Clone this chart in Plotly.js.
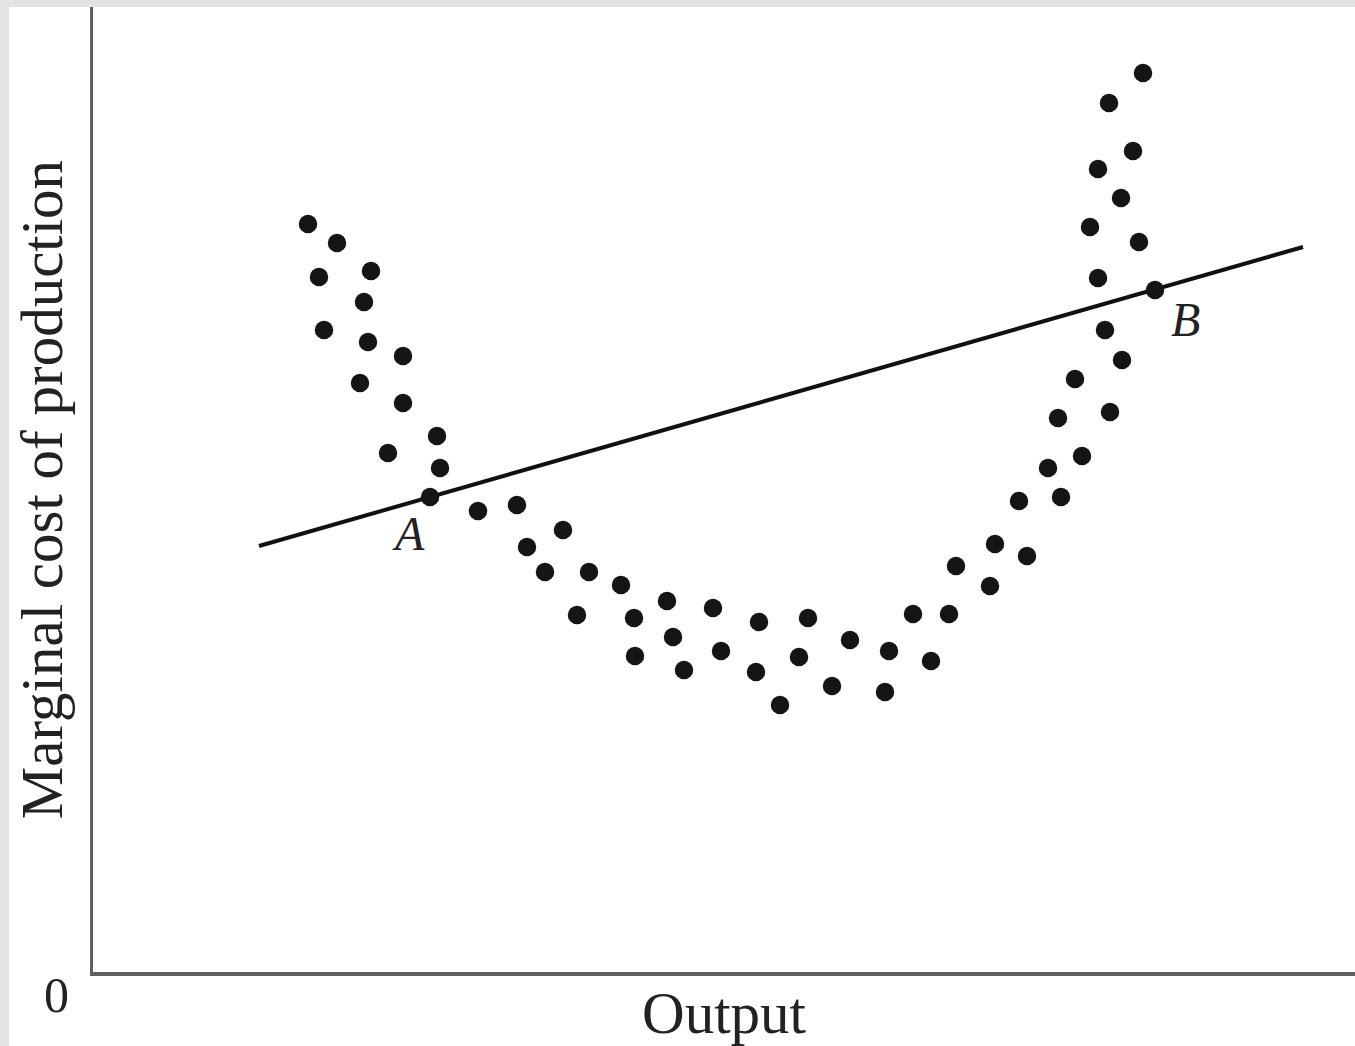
<!DOCTYPE html>
<html>
<head>
<meta charset="utf-8">
<script src="https://cdn.plot.ly/plotly-3.0.1.min.js"></script>
<style>
  html, body { margin: 0; padding: 0; background: #e3e3e3; width: 1355px; height: 1046px; overflow: hidden; }
  #chart { position: absolute; left: 9px; top: 7px; width: 1346px; height: 1039px; background: #ffffff; }
</style>
</head>
<body>
<div id="chart"></div>
<script>
// Observed marginal cost points (output, cost) in chart units
const costX = [215, 244, 226, 278, 271, 231, 275, 310, 267, 310, 344, 295, 347, 337,
  385, 424, 470, 434, 452, 496, 528, 484, 541, 574, 620, 580, 542, 591, 628, 666,
  715, 663, 706, 687, 757, 739, 796, 792, 820, 838, 856, 863, 897, 902, 934, 926,
  968, 955, 989, 965, 1017, 982, 1029, 1012, 1062, 1005, 1046, 997, 1028, 1005, 1040, 1016, 1050];
const costY = [748, 729, 695, 701, 670, 642, 630, 616, 589, 569, 536, 519, 504, 475,
  461, 467, 442, 425, 400, 400, 387, 357, 354, 371, 364, 335, 316, 302, 321, 350,
  354, 300, 315, 267, 332, 286, 321, 280, 358, 311, 358, 406, 386, 428, 416, 471,
  475, 504, 516, 554, 560, 593, 612, 642, 682, 694, 730, 745, 774, 803, 821, 869, 899];

// Straight fitted line (endpoints)
const lineX = [166, 1210];
const lineY = [426, 725];

// Labelled points
const labelNames = ['A', 'B'];
const labelX = [337, 1062];
const labelY = [475, 682];
const labelShiftX = [-22, 30];
const labelShiftY = [-36, -29];

// Axis texts
const xTitle = 'Output';
const yTitle = 'Marginal cost of production';
const originLabel = '0';

const serif = 'Liberation Serif, Times New Roman, serif';

const traces = [
  {
    type: 'scatter', mode: 'lines', x: lineX, y: lineY,
    line: { color: '#111111', width: 4 }, hoverinfo: 'skip', showlegend: false
  },
  {
    type: 'scatter', mode: 'markers', x: costX, y: costY,
    marker: { color: '#151515', size: 18.5, line: { width: 0 } },
    showlegend: false, cliponaxis: false
  }
];

const annotations = labelNames.map((n, i) => ({
  x: labelX[i], y: labelY[i], xref: 'x', yref: 'y', text: n, showarrow: false,
  xshift: labelShiftX[i], yshift: labelShiftY[i],
  font: { family: serif, size: 48, color: '#222222', style: 'italic' }
}));
annotations.push({
  x: 0, y: 0, xref: 'x', yref: 'y', text: originLabel, showarrow: false,
  xshift: -37, yshift: -23,
  font: { family: serif, size: 50, color: '#222222' }
});

const layout = {
  width: 1346, height: 1039,
  margin: { l: 84, r: 0, t: 0, b: 74, pad: 0 },
  paper_bgcolor: '#ffffff', plot_bgcolor: '#ffffff',
  showlegend: false,
  xaxis: {
    range: [0, 1262], showgrid: false, zeroline: false, showticklabels: false, ticks: '',
    showline: true, linecolor: '#606060', linewidth: 3.5, automargin: false,
    title: { text: xTitle, standoff: 22, font: { family: serif, size: 59, color: '#222222' } }
  },
  yaxis: {
    range: [0, 965], showgrid: false, zeroline: false, showticklabels: false, ticks: '',
    showline: true, linecolor: '#606060', linewidth: 3.5, automargin: false,
    title: { text: yTitle, standoff: 14, font: { family: serif, size: 59, color: '#222222' } }
  },
  annotations: annotations
};

Plotly.newPlot('chart', traces, layout, { displayModeBar: false, staticPlot: true });
</script>
</body>
</html>
